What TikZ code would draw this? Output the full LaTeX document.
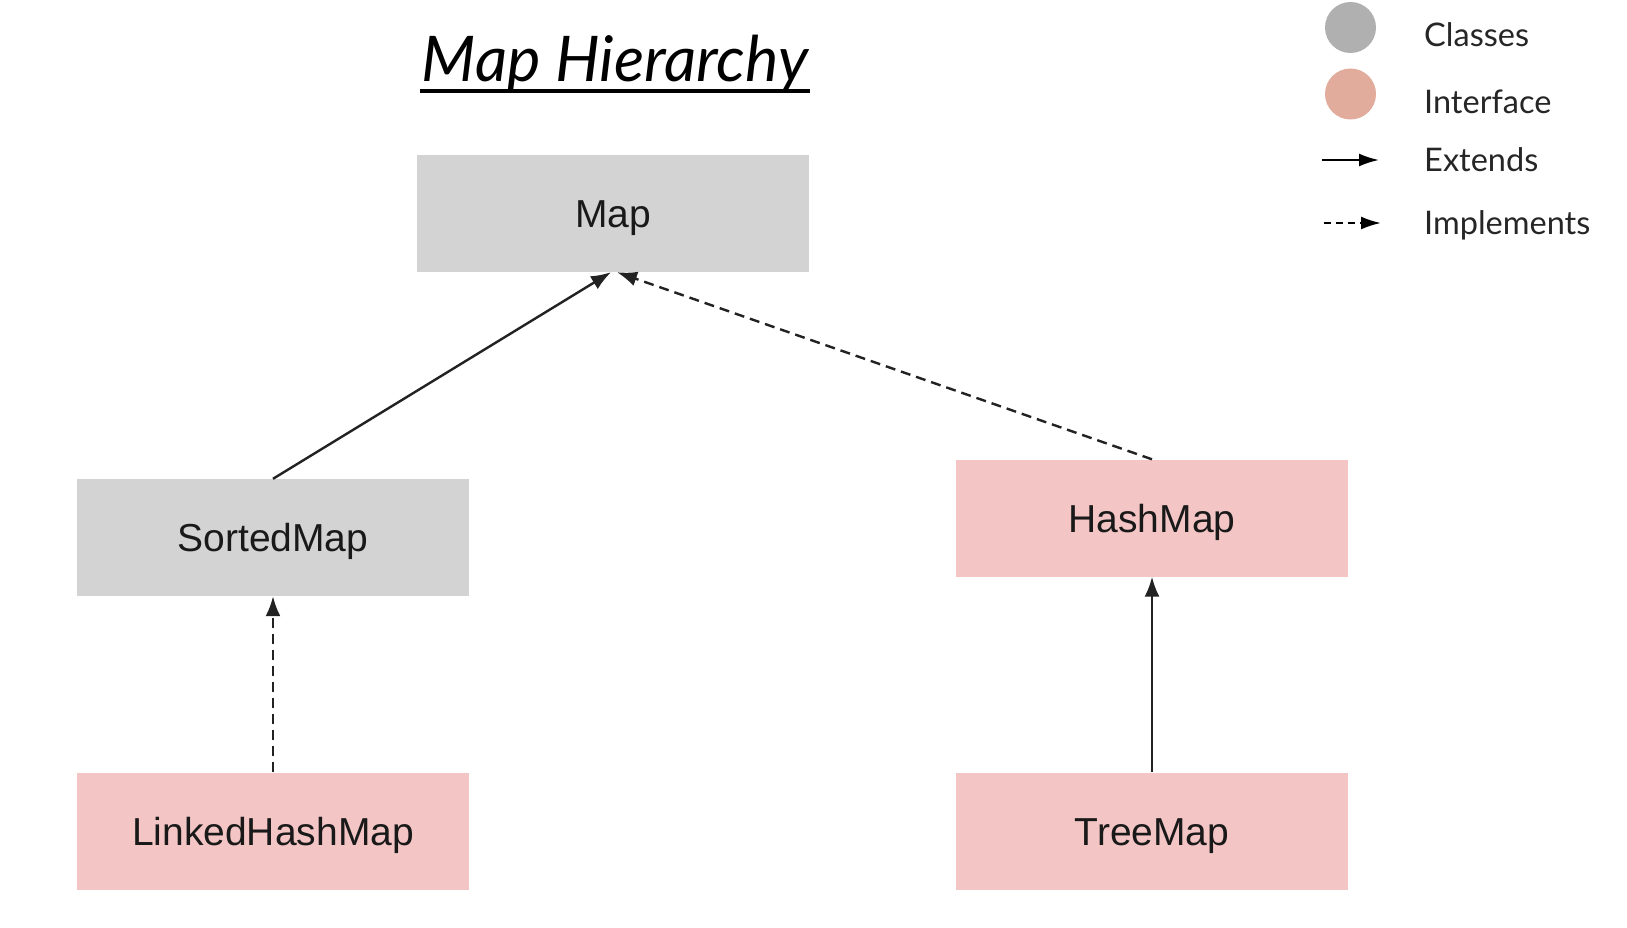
\documentclass[tikz,border=0pt]{standalone}
\usepackage{fontspec}
\setmainfont{Liberation Sans}
\newfontfamily\latofont{Lato}
\usetikzlibrary{arrows.meta}
\definecolor{boxgray}{HTML}{D3D3D3}
\definecolor{boxpink}{HTML}{F3C5C5}
\definecolor{leggray}{HTML}{B0B0B0}
\definecolor{legpink}{HTML}{E2AC9C}
\definecolor{linec}{HTML}{222222}
\begin{document}
\begin{tikzpicture}[x=1pt,y=-1pt,
  cbox/.style={fill=boxgray, draw=none, minimum width=392pt, minimum height=117pt, inner sep=0pt, font=\fontsize{39}{42}\selectfont, text=black!90, text height=28pt, text depth=0pt},
  ibox/.style={cbox, fill=boxpink},
  ext/.style={draw=linec, line width=2.4pt, -{Latex[length=20pt,width=15pt]}},
  impl/.style={ext, dash pattern=on 10pt off 6pt},
  legtext/.style={anchor=west, font=\latofont\fontsize{32.5}{35}\selectfont, text=black!85, inner sep=0pt},
  legdot/.style={circle, minimum size=51pt, inner sep=0pt, draw=none},
  legarrow/.style={draw=black, line width=2.2pt, -{Latex[length=20pt,width=13pt]}}
]
\useasboundingbox[fill=white] (0,0) rectangle (1627,928);

% title
\node[font=\latofont\itshape\fontsize{63}{66}\selectfont, inner sep=0pt, anchor=base] (title) at (615,82) {Map Hierarchy};
\draw[line width=3.5pt] (title.base west) ++(-2,9) coordinate (ul1) -- ([xshift=2pt]title.base east |- ul1);

% boxes
\node[cbox] (map) at (613,213.5) {Map};
\node[cbox] (sorted) at (273,537.5) {SortedMap};
\node[ibox] (hash) at (1152,518) {HashMap};
\node[ibox] (linked) at (273,831) {LinkedHashMap};
\node[ibox] (tree) at (1152,831) {TreeMap};

% connectors
\draw[ext] (sorted.north) -- ([xshift=-2pt]map.south);
\draw[impl] (hash.north) -- ([xshift=4pt]map.south);
\draw[impl] (linked.north) -- (sorted.south);
\draw[ext] (tree.north) -- (hash.south);

% legend
\node[legdot, fill=leggray] (dc) at (1350.5,27.5) {};
\node[legdot, fill=legpink] (di) at (1350.5,94) {};
\coordinate (e1) at (1322,160);
\coordinate (e2) at (1379,160);
\coordinate (i1) at (1324,223);
\coordinate (i2) at (1381,223);
\draw[legarrow] (e1) -- (e2);
\draw[legarrow, dash pattern=on 7pt off 5pt] (i1) -- (i2);
\node[legtext] (lc) at (1424,35) {Classes};
\node[legtext] (li) at (1424,102) {Interface};
\node[legtext] (le) at (1424,160) {Extends};
\node[legtext] (lim) at (1424,225) {Implements};
\end{tikzpicture}
\end{document}
